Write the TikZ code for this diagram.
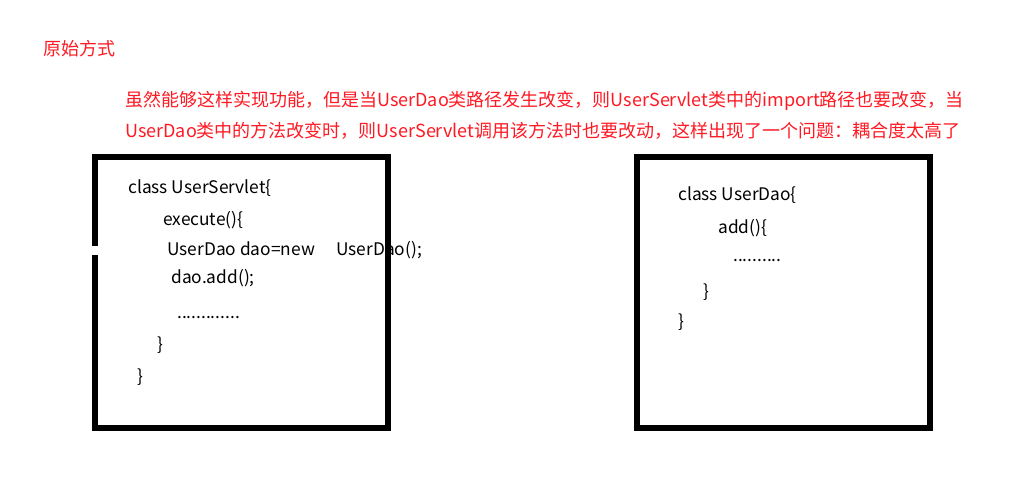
\documentclass[tikz,border=0pt]{standalone}
\usepackage{fontspec}
\setmainfont{Noto Sans CJK SC}
\usetikzlibrary{positioning}
\definecolor{notered}{RGB}{255,25,35}
\tikzstyle{note} = [text=notered, anchor=west, inner sep=0pt,
    font=\fontsize{13.5}{16}\selectfont]
\tikzstyle{code} = [anchor=west, inner sep=0pt,
    font=\fontsize{13}{15}\selectfont]
\tikzstyle{box} = [draw, line width=3.8pt]

\begin{document}
\begin{tikzpicture}[x=0.75pt, y=-0.75pt]
                \useasboundingbox (0,0) rectangle (1021,498);
                \node [note] at (43,49) (title) {原始方式};
                \node [note] at (125,101) (line1) {虽然能够这样实现功能，但是当UserDao类路径发生改变，则UserServlet类中的import路径也要改变，当};
                \node [note] at (125,131) (line2) {UserDao类中的方法改变时，则UserServlet调用该方法时也要改动，这样出现了一个问题：耦合度太高了};
                % UserServlet
                \node [code] at (128,188) (servlet) {class UserServlet\{};
                \node [code] at (163,220) (execute) {execute()\{};
                \node [code] at (167,249) (newdao) {UserDao dao=new};
                \node [code] at (336,250) (ctor) {UserDao();};
                \node [code] at (171,278) (calladd) {dao.add();};
                \node [code] at (177,318) (dotsa) {.............};
                \node [code] at (157,345) (closea) {\}};
                \node [code] at (137,377) (closeb) {\}};
                \path [box] (95,255) -- (95,428) -- (388,428) -- (388,157) -- (95,157) -- (95,246);
                % UserDao
                \node [code] at (678,195) (dao) {class UserDao\{};
                \node [code] at (718,228) (add) {add()\{};
                \node [code] at (733,261) (dotsb) {..........};
                \node [code] at (703,292) (closec) {\}};
                \node [code] at (678,322) (closed) {\}};
                \path [box] (637,157) rectangle (930,428);
            \end{tikzpicture}
\end{document}
